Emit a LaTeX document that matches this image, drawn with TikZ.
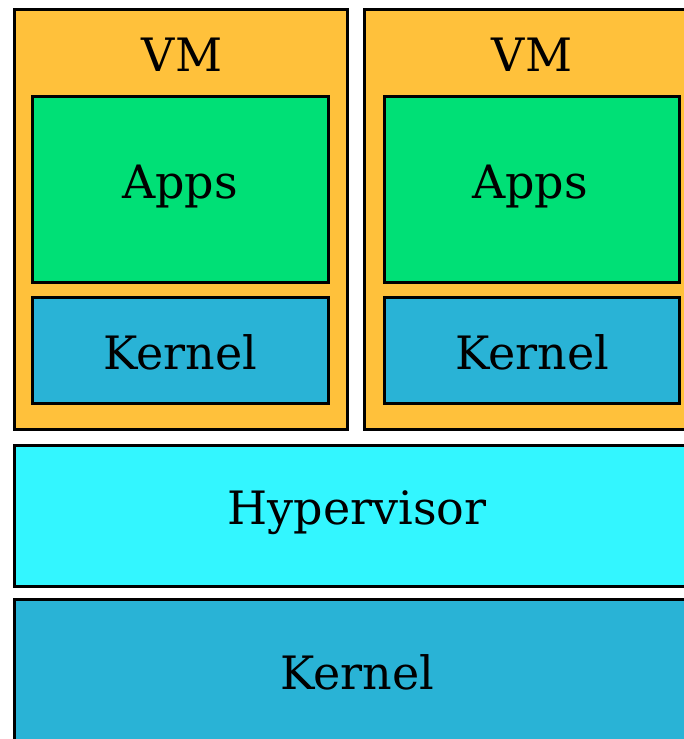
\documentclass[tikz,border=0pt]{standalone}
\usepackage{fontspec}
\setmainfont{DejaVu Serif}
\definecolor{vmorange}{RGB}{255,193,59}
\definecolor{appsgreen}{RGB}{0,224,118}
\definecolor{kernblue}{RGB}{41,179,214}
\definecolor{hypcyan}{RGB}{51,246,255}
\tikzset{
  layer/.style={draw=black, line width=3pt},
  lbl/.style={font=\fontsize{46}{52}\selectfont, text=black, inner sep=0pt}
}
\begin{document}
\begin{tikzpicture}[x=1pt,y=-1pt]
\useasboundingbox (0,0) rectangle (684,739);
\clip (0,0) rectangle (684,739);
% VM 1
\draw[layer, fill=vmorange] (14.5,9.5) rectangle (347.5,429.5);
\node[lbl] (vm1) at (182,55) {VM};
\draw[layer, fill=appsgreen] (32.5,96.5) rectangle (328.5,282.5);
\node[lbl] (apps1) at (180,187) {Apps};
\draw[layer, fill=kernblue] (32.5,297.5) rectangle (328.5,403.5);
\node[lbl] (kern1) at (180,352) {Kernel};
% VM 2
\draw[layer, fill=vmorange] (364.5,9.5) rectangle (700,429.5);
\node[lbl] (vm2) at (532,55) {VM};
\draw[layer, fill=appsgreen] (384.5,96.5) rectangle (679.5,282.5);
\node[lbl] (apps2) at (530,187) {Apps};
\draw[layer, fill=kernblue] (384.5,297.5) rectangle (679.5,403.5);
\node[lbl] (kern2) at (532,352) {Kernel};
% Hypervisor
\draw[layer, fill=hypcyan] (14.5,445.5) rectangle (700,586.5);
\node[lbl] (hyp) at (357,513) {Hypervisor};
% Host kernel
\draw[layer, fill=kernblue] (14.5,599.5) rectangle (700,760);
\node[lbl] (hostkern) at (357,672) {Kernel};
\end{tikzpicture}
\end{document}
